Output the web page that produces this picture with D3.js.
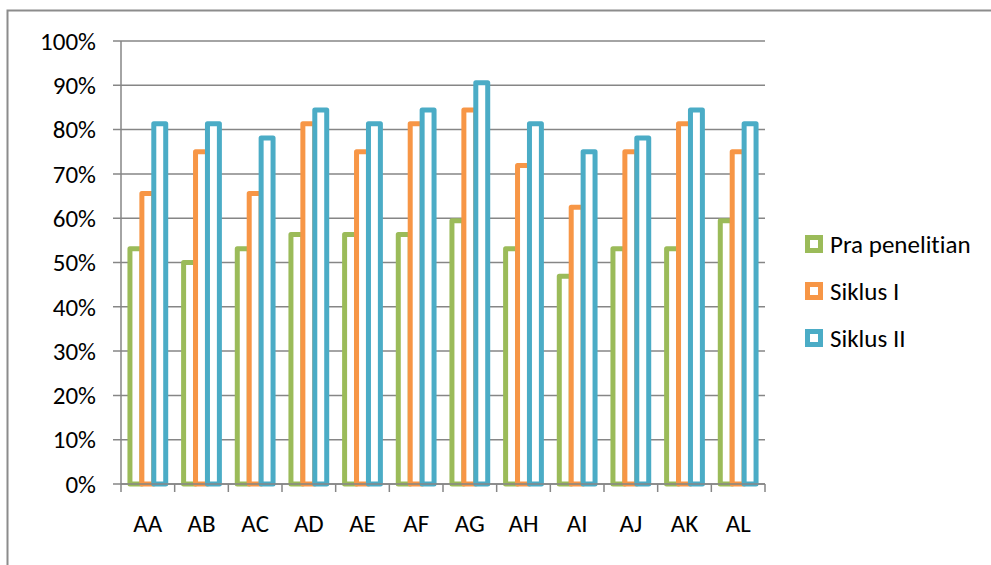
<!DOCTYPE html>
<html><head><meta charset="utf-8">
<script src="https://cdn.jsdelivr.net/npm/d3@7"></script>
<style>body{margin:0;background:#fff}svg{display:block}text{font-variant-ligatures:none;font-feature-settings:"liga" 0}</style>
</head><body>
<svg id="c" width="991" height="565"></svg>
<script>
const categories = ["AA","AB","AC","AD","AE","AF","AG","AH","AI","AJ","AK","AL"];
const seriesNames = ["Pra penelitian","Siklus I","Siklus II"];
const praPenelitian = [53.1,50.0,53.1,56.3,56.3,56.3,59.4,53.1,46.9,53.1,53.1,59.4];
const siklusI = [65.6,75.0,65.6,81.3,75.0,81.3,84.4,71.9,62.5,75.0,81.3,75.0];
const siklusII = [81.3,81.3,78.1,84.4,81.3,84.4,90.6,81.3,75.0,78.1,84.4,81.3];
const yTicks = [0,10,20,30,40,50,60,70,80,90,100];
const colors = ["#9BBB59","#F79646","#4BACC6"];

const series = [praPenelitian, siklusI, siklusII];
const svg = d3.select("#c");
const font = "Carlito, Calibri, 'Open Sans', sans-serif";
const fs = 25;

// outer border
svg.append("rect").attr("x",7.5).attr("y",10.5).attr("width",1000).attr("height",600)
  .attr("fill","none").attr("stroke","#8c8c8c").attr("stroke-width",2);

const L=121, R=765, T=41, B=484;
const x = d3.scaleBand().domain(categories).range([L,R]).paddingInner(0).paddingOuter(0);
const x1 = d3.scaleBand().domain([0,1,2]).range([0,x.bandwidth()]).paddingOuter(0.75).paddingInner(0);
const y = d3.scaleLinear().domain([0,100]).range([B,T]);

// gridlines
svg.append("g").selectAll("line").data(yTicks).join("line")
  .attr("x1",L-8).attr("x2",R).attr("y1",d=>y(d)).attr("y2",d=>y(d))
  .attr("stroke","#868686").attr("stroke-width",1.5);

// y labels
svg.append("g").selectAll("text").data(yTicks).join("text")
  .attr("x",96).attr("y",d=>y(d)).attr("dy","0.35em").attr("text-anchor","end")
  .attr("font-family",font).attr("font-size",fs).attr("fill","#000").text(d=>d+"%");

// bars
const g = svg.append("g");
series.forEach((vals,si)=>{
  g.append("g").selectAll("rect").data(vals).join("rect")
    .attr("x",(d,i)=>x(categories[i])+x1(si))
    .attr("width",x1.bandwidth())
    .attr("y",d=>y(d))
    .attr("height",d=>B-y(d))
    .attr("fill","#fff").attr("stroke",colors[si]).attr("stroke-width",5)
    .attr("stroke-linejoin","round");
});

// y axis line
svg.append("line").attr("x1",L).attr("x2",L).attr("y1",T).attr("y2",B)
  .attr("stroke","#868686").attr("stroke-width",1.5);
// x axis
svg.append("line").attr("x1",L).attr("x2",R).attr("y1",B).attr("y2",B)
  .attr("stroke","#868686").attr("stroke-width",1.5);
const bounds = categories.map(c=>x(c)).concat([R]);
svg.append("g").selectAll("line").data(bounds).join("line")
  .attr("x1",d=>d).attr("x2",d=>d).attr("y1",B).attr("y2",B+8)
  .attr("stroke","#868686").attr("stroke-width",1.5);
svg.append("g").selectAll("text").data(categories).join("text")
  .attr("x",d=>x(d)+x.bandwidth()/2).attr("y",523).attr("dy","0.35em")
  .attr("text-anchor","middle").attr("font-family",font).attr("font-size",fs).attr("fill","#000").text(d=>d);

// legend
const leg = svg.append("g");
seriesNames.forEach((n,i)=>{
  const cy = 244 + i*47;
  leg.append("rect").attr("x",807.5).attr("y",cy-6.5).attr("width",13).attr("height",13)
    .attr("fill","#fff").attr("stroke",colors[i]).attr("stroke-width",5);
  leg.append("text").attr("x",830).attr("y",cy).attr("dy","0.35em")
    .attr("font-family",font).attr("font-size",fs).attr("fill","#000").text(n);
});
</script>
</body></html>
